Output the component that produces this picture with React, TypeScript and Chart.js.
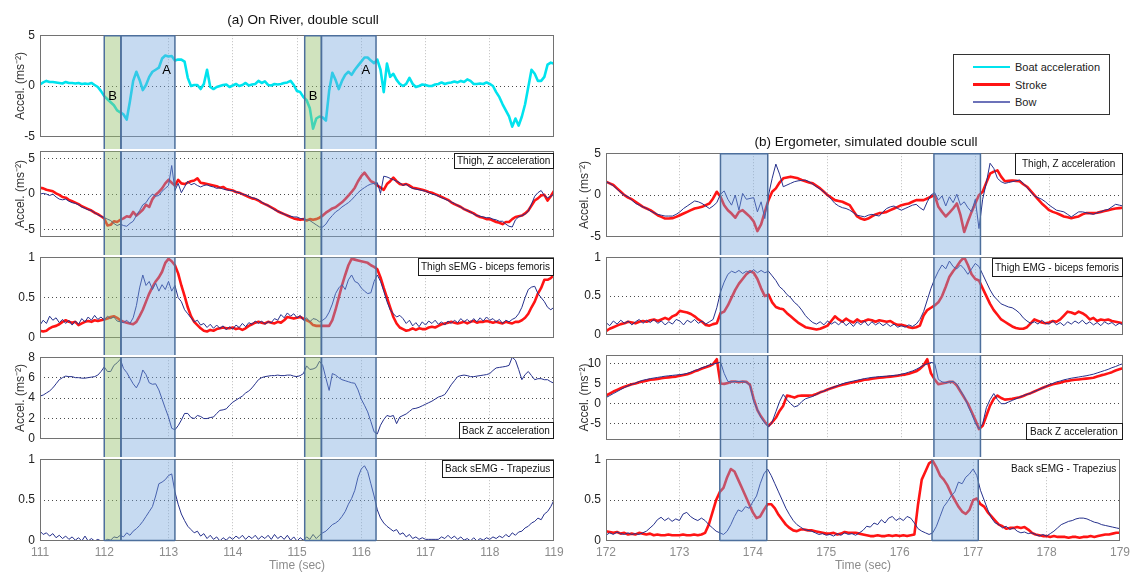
import React, { useEffect, useRef } from "react";
import { Chart, registerables } from "chart.js";

Chart.register(...registerables);

const FONT = "'Liberation Sans', Arial, Helvetica, sans-serif";

// ---------- categories / ticks ----------
const LEFT_START = 111;
const LEFT_END = 119;
const RIGHT_START = 172;
const RIGHT_END = 179;
const SAMPLE_STEP = 0.05;
const LEFT_X_TICKS = [111, 112, 113, 114, 115, 116, 117, 118, 119];
const RIGHT_X_TICKS = [172, 173, 174, 175, 176, 177, 178, 179];

const L1_Y_TICKS = [-5, 0, 5];
const L2_Y_TICKS = [-5, 0, 5];
const L3_Y_TICKS = [0, 0.5, 1];
const L4_Y_TICKS = [0, 2, 4, 6, 8];
const L5_Y_TICKS = [0, 0.5, 1];
const R1_Y_TICKS = [-5, 0, 5];
const R2_Y_TICKS = [0, 0.5, 1];
const R3_Y_TICKS = [-5, 0, 5, 10];
const R4_Y_TICKS = [0, 0.5, 1];

// ---------- (a) On river, 111..119 s, every 0.05 s ----------
const L_BOAT = [
  0.15, 0.35, 0.5, 0.4, 0.4, 0.35, 0.3, 0.25, 0.4, 0.3,
  0.3, 0.25, 0.3, 0.2, 0.25, 0.2, 0.3, 0.1, -0.1, -0.5,
  -1.0, -1.3, -1.6, -1.9, -2.4, -2.6, -2.8, -3.3, -1.5, 0.5,
  1.4, 0.6, -0.4, 0.1, 0.9, 1.4, 1.6, 1.8, 2.7, 3.0,
  2.9, 2.95, 2.5, 2.6, 2.6, 2.4, 0.8, 0.0, 0.1, 0.1,
  -0.3, 0.2, 1.6, -0.1, -0.3, -0.1, 0.0, 0.1, 0.15, -0.1,
  0.05, 0.2, 0.0, 0.1, 0.3, 0.05, 0.15, 0.2, 0.5, 0.3,
  0.45, 0.1, 0.05, 0.2, 0.15, 0.2, 0.3, 0.35, 0.5, 0.1,
  -0.5, -0.6, -1.1, -1.4, -2.2, -4.2, -3.2, -3.0, -3.1, -3.4,
  -0.5, 1.3, 0.6, -0.3, 0.5, 1.1, 1.4, 1.1, 1.6, 2.0,
  2.4, 2.8, 2.8, 2.5, 2.25, 2.6, 1.6, -0.6, 2.2, 0.9,
  1.2, 0.6, 0.2, 0.0, 0.2, 0.8, 0.2, -0.1, 0.0, 0.15,
  0.1, 0.0, 0.0, 0.15, 0.2, 0.35, 0.2, 0.3, 0.35, 0.45,
  0.35, 0.5, 0.4, 0.65, 0.5, 0.2, 0.2, 0.25, 0.2, 0.35,
  0.2, 0.0, -0.6, -1.1, -1.8, -2.4, -3.0, -4.0, -3.2, -3.9,
  -3.0, -1.8, -0.1, 1.6, 1.2, 0.5, 0.5, 0.9, 2.1, 2.3,
  2.2,
];

const L_THIGH_ACC_STROKE = [
  0.9, 0.8, 0.6, 0.5, 0.4, 0.1, -0.1, -0.4, -0.5, -0.8,
  -1.0, -1.2, -1.4, -1.7, -1.9, -2.1, -2.3, -2.6, -2.8, -3.1,
  -3.4, -4.4, -4.3, -3.8, -3.9, -3.6, -3.4, -3.1, -3.2, -2.5,
  -3.0, -2.6, -2.2, -1.5, -1.8, -0.7, -0.1, 0.3, 0.8, 1.5,
  2.0, 1.6, 1.2, 2.0, 1.5, 1.4, 1.6, 1.8, 1.9, 2.2,
  1.6, 1.5, 1.4, 1.3, 1.2, 1.1, 0.9, 1.0, 0.7, 0.6,
  0.5, 0.3, 0.2, 0.0, -0.2, -0.4, -0.6, -0.7, -0.9, -1.2,
  -1.4, -1.6, -1.85, -2.1, -2.4, -2.6, -2.8, -3.0, -3.2, -3.4,
  -3.5, -3.6, -3.5, -3.7, -3.5, -3.6, -3.5, -3.3, -3.0, -2.6,
  -2.3, -2.0, -1.85, -1.5, -1.15, -0.7, -0.2, 0.3, 0.9, 1.8,
  2.5, 3.0, 2.4, 1.8, 1.6, 1.2, 0.9, 0.6, 1.4, 1.8,
  2.3, 1.8, 1.4, 1.3, 1.4, 1.2, 0.9, 0.8, 0.7, 0.6,
  0.46, 0.3, 0.2, 0.0, -0.2, -0.4, -0.6, -0.8, -1.15, -1.4,
  -1.6, -1.8, -2.1, -2.3, -2.5, -2.7, -3.0, -3.2, -3.3, -3.5,
  -3.5, -3.7, -3.9, -4.0, -4.2, -3.9, -3.9, -3.5, -3.2, -3.1,
  -3.0, -2.7, -2.3, -1.6, -0.9, -0.6, -0.2, -0.1, -0.9, -0.3,
  0.46,
];

const L_THIGH_ACC_BOW = [
  0.0, 0.1, 0.0, -0.2, 0.0, -0.4, -0.7, -0.8, -0.7, -1.0,
  -1.2, -1.3, -1.5, -1.8, -2.0, -2.2, -2.3, -2.6, -2.9, -3.1,
  -3.3, -3.5, -3.7, -4.1, -4.4, -4.2, -4.4, -4.5, -4.1, -3.8,
  -3.0, -2.3, -1.5, -1.2, -0.5, 0.0, -0.3, -0.2, 0.4, 0.8,
  1.2, 4.0, 0.5, 1.5, 0.2, 1.0, 1.8, 1.3, 1.5, 1.2,
  1.0, 1.2, 1.3, 1.1, 1.0, 0.8, 0.9, 0.7, 0.6, 0.5,
  0.5, 0.3, 0.2, 0.0, -0.1, -0.3, -0.5, -0.6, -0.8, -1.1,
  -1.4, -1.6, -1.9, -2.2, -2.4, -2.6, -2.8, -3.0, -3.1, -3.2,
  -3.2, -3.4, -3.5, -3.6, -3.7, -4.0, -4.3, -4.6, -4.6, -4.2,
  -3.5, -3.0, -2.5, -2.2, -1.8, -1.5, -1.2, -0.8, -0.3, 0.2,
  0.6, 0.9, 1.2, 1.4, 1.5, 1.6, 0.1, 2.5, 2.4, 2.2,
  2.0, 1.8, 1.6, 1.2, 1.4, 1.0, 0.8, 0.7, 0.6, 0.5,
  0.4, 0.2, 0.0, -0.1, -0.3, -0.5, -0.7, -0.9, -1.1, -1.3,
  -1.6, -1.8, -2.1, -2.3, -2.5, -2.8, -3.0, -3.1, -3.2, -3.3,
  -3.3, -3.5, -3.6, -3.8, -3.8, -4.2, -4.5, -4.6, -3.6, -3.2,
  -3.0, -2.8, -2.4, -1.4, -0.3, 0.2, 0.5, -0.2, -0.5, -0.3,
  0.0,
];

const L_THIGH_EMG_STROKE = [
  0.09, 0.08, 0.09, 0.12, 0.14, 0.15, 0.17, 0.2, 0.22, 0.2,
  0.19, 0.2, 0.16, 0.18, 0.2, 0.21, 0.2, 0.22, 0.21, 0.22,
  0.23, 0.24, 0.26, 0.27, 0.25, 0.22, 0.2, 0.19, 0.18, 0.17,
  0.2, 0.27, 0.35, 0.45, 0.55, 0.63, 0.7, 0.75, 0.82, 0.93,
  0.98, 0.95, 0.9, 0.8, 0.65, 0.52, 0.38, 0.27, 0.2, 0.16,
  0.12, 0.09, 0.08, 0.1, 0.09, 0.11, 0.12, 0.13, 0.12, 0.12,
  0.13, 0.11, 0.12, 0.1, 0.12, 0.15, 0.17, 0.19, 0.2, 0.19,
  0.18, 0.2, 0.19, 0.18, 0.2, 0.19, 0.22, 0.26, 0.25, 0.24,
  0.25, 0.26, 0.24, 0.22, 0.2, 0.16, 0.15, 0.15, 0.15, 0.15,
  0.15, 0.22, 0.35, 0.5, 0.65, 0.78, 0.9, 0.98, 0.97, 0.96,
  0.95, 0.94, 0.93, 0.9, 0.88, 0.85, 0.75, 0.62, 0.5, 0.38,
  0.26, 0.18, 0.13, 0.11, 0.09, 0.1, 0.12, 0.1, 0.12, 0.11,
  0.11, 0.13, 0.14, 0.13, 0.15, 0.17, 0.18, 0.19, 0.2, 0.19,
  0.18, 0.19, 0.2, 0.18, 0.2, 0.21, 0.19, 0.2, 0.2, 0.21,
  0.2, 0.19, 0.2, 0.19, 0.18, 0.2, 0.19, 0.18, 0.2, 0.2,
  0.22, 0.25, 0.3, 0.38, 0.45, 0.55, 0.62, 0.72, 0.72, 0.74,
  0.78,
];

const L_THIGH_EMG_BOW = [
  0.16, 0.22, 0.18, 0.27, 0.22, 0.25, 0.19, 0.23, 0.18, 0.22,
  0.16, 0.21, 0.17, 0.24, 0.2, 0.26, 0.22, 0.28, 0.23, 0.26,
  0.22, 0.27, 0.24, 0.26, 0.21, 0.2, 0.19, 0.22, 0.18, 0.25,
  0.4, 0.62, 0.78, 0.65, 0.7, 0.6, 0.68, 0.58, 0.66, 0.6,
  0.7, 0.58, 0.65, 0.5, 0.45, 0.35, 0.3, 0.25, 0.2, 0.22,
  0.16, 0.18, 0.13, 0.17, 0.12, 0.16, 0.12, 0.15, 0.1, 0.14,
  0.11, 0.16, 0.13, 0.18, 0.14, 0.19, 0.17, 0.21, 0.18, 0.21,
  0.17, 0.2, 0.19, 0.24, 0.22, 0.29, 0.25, 0.31, 0.27, 0.3,
  0.25, 0.28, 0.22, 0.25, 0.2, 0.24, 0.23, 0.2, 0.22, 0.25,
  0.32, 0.42, 0.55, 0.62, 0.66, 0.6, 0.72, 0.78, 0.7, 0.68,
  0.62, 0.58, 0.55, 0.56, 0.7, 0.78, 0.7, 0.58, 0.45, 0.35,
  0.3, 0.26, 0.28, 0.24, 0.18, 0.22, 0.15, 0.19, 0.14, 0.2,
  0.16, 0.21, 0.18, 0.22, 0.17, 0.2, 0.16, 0.21, 0.18, 0.22,
  0.19, 0.24, 0.2, 0.23, 0.19, 0.24, 0.2, 0.25, 0.21, 0.26,
  0.22, 0.24, 0.2, 0.23, 0.18, 0.22, 0.2, 0.23, 0.25, 0.3,
  0.38, 0.5, 0.6, 0.63, 0.64, 0.55, 0.5, 0.45, 0.38, 0.35,
  0.38,
];

const L_BACK_ACC_BOW = [
  4.2, 4.3, 4.5, 4.7, 5.0, 5.4, 5.8, 6.0, 6.15, 6.1,
  6.1, 6.0, 6.0, 5.95, 5.95, 6.0, 6.05, 6.1, 6.25, 6.6,
  7.05, 6.6, 6.6, 7.2, 7.45, 7.8, 6.9, 6.5, 5.95, 5.4,
  5.0, 5.6, 6.75, 6.3, 5.5, 5.35, 5.4, 4.8, 3.9, 3.0,
  2.15, 1.05, 0.9, 1.3, 1.85, 2.5, 2.5, 2.1, 2.0, 2.3,
  2.2, 2.0, 2.0, 2.1, 2.15, 2.5, 2.8, 2.85, 2.95, 3.3,
  3.6, 3.8, 4.0, 4.2, 4.5, 4.7, 5.0, 5.4, 5.8, 6.0,
  6.1, 6.15, 6.2, 6.2, 6.25, 6.2, 6.2, 6.25, 6.25, 6.15,
  6.1, 6.2, 6.4, 7.15, 6.8, 6.85, 7.0, 7.6, 7.2, 5.95,
  4.75, 6.4, 6.25, 6.0, 5.8, 5.7, 5.6, 5.5, 5.45, 4.8,
  3.9, 3.3, 2.65, 1.7, 0.7, 0.5, 1.35, 1.9, 2.3, 2.2,
  2.3, 1.5, 2.15, 2.3, 2.45, 2.7, 2.95, 3.0, 3.1, 3.25,
  3.4, 3.55, 3.7, 3.9, 4.1, 4.2, 4.35, 4.8, 5.3, 5.7,
  6.1, 6.2, 6.25, 6.2, 6.1, 6.1, 6.15, 6.2, 6.25, 6.3,
  6.4, 6.7, 6.95, 7.0, 7.05, 7.1, 7.2, 8.0, 7.7, 6.8,
  5.8, 6.3, 6.6, 6.2, 5.8, 5.9, 5.9, 5.8, 5.8, 5.6,
  5.45,
];

const L_BACK_EMG_BOW = [
  0.12, 0.08, 0.1, 0.06, 0.09, 0.04, 0.07, 0.03, 0.06, 0.02,
  0.05, 0.01, 0.04, 0.0, 0.06, 0.0, 0.03, 0.0, 0.02, 0.0,
  0.0, 0.02, 0.01, 0.05, 0.04, 0.07, 0.05, 0.1, 0.07, 0.12,
  0.15, 0.19, 0.24, 0.3, 0.36, 0.42, 0.55, 0.7, 0.72, 0.75,
  0.8, 0.82, 0.6, 0.45, 0.33, 0.25, 0.18, 0.14, 0.1, 0.12,
  0.06, 0.09, 0.03, 0.07, 0.02, 0.05, 0.0, 0.04, 0.01, 0.05,
  0.02, 0.06, 0.03, 0.07, 0.02, 0.06, 0.03, 0.07, 0.02, 0.06,
  0.03, 0.07, 0.02, 0.08, 0.03, 0.06, 0.02, 0.07, 0.01, 0.05,
  0.0, 0.04, 0.01, 0.05, 0.02, 0.08, 0.03, 0.07, 0.1, 0.12,
  0.16, 0.2, 0.22, 0.25, 0.3, 0.36, 0.45, 0.52, 0.62, 0.78,
  0.88, 0.92, 0.85, 0.7, 0.55, 0.38, 0.28, 0.22, 0.18, 0.15,
  0.12, 0.14, 0.08, 0.1, 0.05, 0.08, 0.03, 0.05, 0.02, 0.04,
  0.02, 0.02, 0.02, 0.02, 0.02, 0.05, 0.03, 0.07, 0.03, 0.06,
  0.02, 0.05, 0.01, 0.03, 0.0, 0.04, 0.0, 0.03, 0.01, 0.04,
  0.02, 0.05, 0.03, 0.06, 0.04, 0.08, 0.05, 0.1, 0.07, 0.11,
  0.12, 0.16, 0.18, 0.22, 0.24, 0.28, 0.26, 0.33, 0.36, 0.42,
  0.5,
];

// ---------- (b) Ergometer, 172..179 s, every 0.05 s ----------
const R_THIGH_ACC_STROKE = [
  1.6, 1.4, 1.2, 0.8, 0.4, 0.0, -0.3, -0.5, -0.8, -1.1,
  -1.4, -1.6, -1.8, -2.1, -2.4, -2.6, -2.8, -2.8, -2.75, -2.6,
  -2.4, -2.2, -2.0, -1.8, -1.6, -1.5, -1.4, -1.2, -1.0, -0.4,
  0.4, -0.2, -1.2, -1.8, -2.2, -2.7, -2.0, -1.8, -2.2, -2.6,
  -3.15, -4.3, -3.5, -2.0, -0.6, 0.4, 0.8, 1.5, 2.0, 2.1,
  2.2, 2.1, 2.0, 1.8, 1.65, 1.5, 1.4, 1.1, 0.8, 0.4,
  0.0, -0.3, -0.6, -0.7, -0.8, -1.0, -1.2, -1.9, -2.55, -2.8,
  -2.95, -2.8, -2.55, -2.3, -2.15, -2.1, -2.0, -1.8, -1.6, -1.4,
  -1.2, -1.1, -1.0, -0.8, -0.6, -0.6, -0.6, -0.4, -0.2, 0.0,
  -1.4, -2.0, -2.55, -2.1, -1.6, -1.0, -2.4, -4.4, -3.15, -2.0,
  -1.0, 0.0, 0.4, 1.5, 2.55, 2.8, 2.95, 2.2, 1.65, 1.7,
  1.75, 1.7, 1.65, 1.3, 1.0, 0.5, 0.0, -0.5, -1.0, -1.4,
  -1.8, -2.0, -2.15, -2.35, -2.55, -2.65, -2.75, -2.65, -2.55, -2.3,
  -2.15, -2.15, -2.15, -2.1, -2.0, -1.9, -1.8, -1.7, -1.6, -1.55,
  -1.5,
];

const R_THIGH_ACC_BOW = [
  1.6, 1.4, 1.1, 0.7, 0.3, 0.0, -0.2, -0.6, -1.0, -1.2,
  -1.4, -1.6, -1.9, -2.1, -2.3, -2.4, -2.5, -2.5, -2.5, -2.3,
  -2.0, -1.6, -1.3, -1.0, -0.7, -0.8, -1.0, -1.3, -1.6, -1.3,
  -0.9, 0.1, 0.5, -0.5, -1.2, 0.0, -1.8, 0.2, -0.5, -0.4,
  -0.3, -2.0, -0.8, -2.8, 0.0, 2.0, 3.7, 2.5, 1.0, 1.2,
  1.4, 1.6, 1.7, 1.75, 1.8, 1.6, 1.3, 1.0, 0.7, 0.4,
  0.0, -0.5, -1.0, -1.3, -1.5, -1.6, -1.8, -2.1, -2.4, -2.5,
  -2.6, -2.4, -2.3, -2.4, -2.5, -2.0, -1.6, -1.4, -1.3, -1.6,
  -1.8, -1.6, -1.4, -1.2, -1.1, -1.5, -1.8, -0.8, 0.0, 0.3,
  -0.6, -0.1, -1.3, -0.2, -0.9, 0.1, -1.2, -0.8, -1.5, -2.0,
  -0.5, -4.0, -0.5, 1.5, 3.8, 3.2, 2.0, 1.6, 1.4, 1.5,
  1.6, 1.7, 1.8, 1.4, 0.9, 0.4, -0.1, -0.3, -0.5, -0.8,
  -1.2, -1.5, -1.8, -1.9, -2.0, -2.3, -2.6, -2.3, -2.0, -2.0,
  -2.1, -2.2, -2.3, -2.1, -2.0, -1.8, -1.7, -1.4, -1.1, -1.2,
  -1.3,
];

const R_THIGH_EMG_STROKE = [
  0.05, 0.08, 0.1, 0.12, 0.14, 0.15, 0.17, 0.16, 0.15, 0.17,
  0.18, 0.17, 0.19, 0.2, 0.18, 0.2, 0.22, 0.2, 0.24, 0.26,
  0.31, 0.3, 0.29, 0.27, 0.24, 0.2, 0.17, 0.13, 0.12, 0.14,
  0.15, 0.28, 0.3, 0.38, 0.48, 0.58, 0.66, 0.72, 0.78, 0.82,
  0.8, 0.72, 0.6, 0.5, 0.52, 0.42, 0.36, 0.34, 0.33, 0.28,
  0.24, 0.2, 0.16, 0.13, 0.1, 0.09, 0.08, 0.07, 0.08, 0.1,
  0.12, 0.18, 0.24, 0.2, 0.17, 0.21, 0.18, 0.16, 0.2, 0.17,
  0.18, 0.2, 0.19, 0.17, 0.19, 0.18, 0.17, 0.18, 0.15, 0.13,
  0.13, 0.12, 0.1, 0.09, 0.1, 0.12, 0.25, 0.32, 0.35, 0.38,
  0.42, 0.5, 0.62, 0.75, 0.82, 0.88, 0.95, 1.0, 0.9, 0.78,
  0.72, 0.7, 0.6, 0.5, 0.4, 0.32, 0.26, 0.2, 0.17, 0.14,
  0.11, 0.09, 0.08, 0.08, 0.1, 0.15, 0.2, 0.18, 0.16, 0.15,
  0.16, 0.18, 0.17, 0.2, 0.25, 0.3, 0.29, 0.27, 0.3, 0.28,
  0.25, 0.2, 0.22, 0.18, 0.2, 0.19, 0.2, 0.18, 0.17, 0.16,
  0.15,
];

const R_THIGH_EMG_BOW = [
  0.16, 0.12, 0.18, 0.14, 0.19, 0.15, 0.18, 0.13, 0.17, 0.2,
  0.15, 0.19, 0.16, 0.2, 0.15, 0.18, 0.13, 0.17, 0.14, 0.2,
  0.18, 0.13, 0.19, 0.16, 0.2, 0.15, 0.18, 0.14, 0.17, 0.2,
  0.35, 0.55, 0.68, 0.78, 0.82, 0.8, 0.83, 0.79, 0.82, 0.8,
  0.84, 0.8, 0.83, 0.8, 0.82, 0.76, 0.7, 0.62, 0.58, 0.52,
  0.48, 0.42, 0.38, 0.32, 0.25, 0.2, 0.16, 0.14, 0.17, 0.13,
  0.18, 0.14, 0.17, 0.13, 0.18, 0.12, 0.16, 0.11, 0.17, 0.13,
  0.18, 0.12, 0.17, 0.13, 0.16, 0.12, 0.15, 0.11, 0.14, 0.1,
  0.12, 0.1, 0.13, 0.11, 0.14, 0.2, 0.3, 0.45, 0.6, 0.72,
  0.82, 0.9, 0.85, 0.95, 0.88, 0.85, 0.9, 0.85, 0.78, 0.85,
  0.92, 0.88, 0.78, 0.68, 0.58, 0.5, 0.45, 0.4, 0.38, 0.36,
  0.35, 0.32, 0.28, 0.22, 0.18, 0.15, 0.17, 0.14, 0.19, 0.15,
  0.14, 0.18, 0.13, 0.16, 0.12, 0.17, 0.14, 0.18, 0.15, 0.19,
  0.14, 0.17, 0.13, 0.16, 0.12, 0.17, 0.14, 0.16, 0.12, 0.15,
  0.13,
];

const R_BACK_ACC_STROKE = [
  2.0, 2.5, 3.0, 3.4, 3.8, 4.2, 4.5, 4.8, 5.0, 5.3,
  5.5, 5.7, 5.9, 6.0, 6.1, 6.3, 6.4, 6.5, 6.6, 6.7,
  6.9, 7.1, 7.3, 7.6, 8.0, 8.3, 8.7, 9.0, 9.3, 9.8,
  11.0, 5.0, 4.9, 5.1, 5.5, 5.5, 5.3, 5.5, 5.4, 4.6,
  1.2, -1.6, -3.2, -4.5, -5.5, -4.6, -3.5, -1.8, -0.5, 2.0,
  1.8, 1.5, 1.9, 2.0, 2.0, 2.0, 2.1, 2.4, 2.8, 3.1,
  3.5, 3.8, 4.1, 4.4, 4.7, 4.9, 5.1, 5.3, 5.5, 5.7,
  5.9, 6.0, 6.2, 6.3, 6.4, 6.5, 6.6, 6.7, 6.8, 6.9,
  7.1, 7.2, 7.4, 7.7, 8.0, 8.6, 9.5, 11.0, 7.5, 6.0,
  4.8, 5.0, 5.2, 5.4, 5.4, 4.5, 3.0, 1.5, 0.0, -2.0,
  -4.0, -6.3, -5.5, -3.0, -0.5, 1.2, 2.0, 1.4, 1.0, 1.1,
  1.2, 1.4, 1.6, 1.9, 2.3, 2.6, 3.0, 3.4, 3.8, 4.2,
  4.5, 4.8, 5.0, 5.2, 5.5, 5.6, 5.8, 5.9, 6.0, 6.1,
  6.2, 6.3, 6.4, 6.7, 7.0, 7.2, 7.5, 7.8, 8.2, 8.5,
  8.8,
];

const R_BACK_ACC_BOW = [
  1.5, 2.0, 2.5, 3.0, 3.5, 4.0, 4.4, 4.8, 5.1, 5.5,
  5.8, 6.0, 6.2, 6.35, 6.5, 6.65, 6.8, 6.9, 7.0, 7.1,
  7.2, 7.3, 7.5, 7.8, 8.2, 8.5, 8.9, 9.2, 9.6, 9.8,
  10.0, 10.3, 7.5, 5.5, 5.4, 5.5, 5.5, 5.5, 5.3, 4.5,
  0.5, -1.5, -3.5, -4.8, -5.8, -4.5, -2.0, 0.5, 2.3, 1.0,
  0.0, -0.8, -0.5, 0.5, 1.2, 1.5, 1.8, 2.3, 2.8, 3.1,
  3.5, 3.9, 4.2, 4.6, 4.9, 5.2, 5.4, 5.6, 5.8, 6.0,
  6.2, 6.35, 6.5, 6.6, 6.7, 6.75, 6.8, 6.9, 7.0, 7.1,
  7.3, 7.5, 7.8, 8.1, 8.5, 9.0, 9.5, 9.8, 10.2, 10.0,
  6.0, 5.4, 5.2, 5.4, 5.5, 4.8, 3.2, 1.8, -0.5, -2.5,
  -4.8, -6.2, -5.0, -1.0, 1.0, 2.5, 1.0, 0.0, 0.0, 0.4,
  0.8, 1.2, 1.6, 2.0, 2.3, 2.6, 3.0, 3.4, 3.8, 4.2,
  4.7, 5.0, 5.4, 5.6, 5.9, 6.1, 6.3, 6.45, 6.6, 6.75,
  6.9, 7.1, 7.3, 7.6, 7.9, 8.2, 8.5, 8.9, 9.2, 9.6,
  9.9,
];

const R_BACK_EMG_STROKE = [
  0.12, 0.11, 0.1, 0.11, 0.09, 0.1, 0.08, 0.09, 0.08, 0.1,
  0.09, 0.08, 0.09, 0.07, 0.08, 0.07, 0.07, 0.08, 0.07, 0.07,
  0.07, 0.08, 0.07, 0.07, 0.08, 0.07, 0.08, 0.1, 0.2, 0.35,
  0.5, 0.6, 0.65, 0.78, 0.88, 0.85, 0.75, 0.65, 0.55, 0.45,
  0.35, 0.28, 0.3, 0.38, 0.45, 0.45, 0.4, 0.32, 0.26, 0.2,
  0.16, 0.13, 0.12, 0.14, 0.14, 0.13, 0.13, 0.12, 0.11, 0.1,
  0.09, 0.09, 0.1, 0.08, 0.09, 0.11, 0.1, 0.1, 0.1, 0.09,
  0.08, 0.07, 0.06, 0.06, 0.07, 0.06, 0.06, 0.07, 0.06, 0.07,
  0.06, 0.07, 0.06, 0.07, 0.08, 0.45, 0.75, 0.85, 0.95, 0.98,
  0.9, 0.8, 0.75, 0.68, 0.58, 0.5, 0.42, 0.36, 0.33, 0.38,
  0.5, 0.52, 0.45, 0.42, 0.35, 0.3, 0.25, 0.2, 0.18, 0.15,
  0.16, 0.16, 0.17, 0.16, 0.17, 0.14, 0.1, 0.08, 0.07, 0.06,
  0.06, 0.05, 0.06, 0.05, 0.05, 0.05, 0.04, 0.05, 0.05, 0.04,
  0.05, 0.05, 0.06, 0.05, 0.06, 0.07, 0.08, 0.08, 0.09, 0.1,
  0.1,
];

const R_BACK_EMG_BOW = [
  0.07, 0.1, 0.08, 0.11, 0.09, 0.08, 0.1, 0.08, 0.09, 0.08,
  0.1, 0.12, 0.16, 0.2, 0.26, 0.29, 0.25, 0.28, 0.24, 0.27,
  0.25, 0.33, 0.35, 0.3, 0.27, 0.25, 0.28, 0.25, 0.2, 0.16,
  0.12, 0.1, 0.08, 0.12, 0.2, 0.3, 0.38, 0.36, 0.42, 0.4,
  0.48, 0.55, 0.7, 0.82, 0.88, 0.8, 0.7, 0.6, 0.5, 0.4,
  0.32, 0.25, 0.2, 0.17, 0.14, 0.13, 0.12, 0.1, 0.08, 0.09,
  0.07, 0.08, 0.06, 0.09, 0.07, 0.1, 0.08, 0.09, 0.07, 0.1,
  0.13, 0.18, 0.17, 0.22, 0.2, 0.26, 0.22, 0.28, 0.3, 0.25,
  0.28, 0.25, 0.3, 0.28, 0.22, 0.15, 0.12, 0.1, 0.08, 0.1,
  0.18, 0.3, 0.42, 0.48, 0.55, 0.6, 0.72, 0.7, 0.78, 0.82,
  0.88, 0.8, 0.62, 0.5, 0.38, 0.28, 0.22, 0.2, 0.16, 0.18,
  0.14, 0.16, 0.12, 0.1, 0.11, 0.09, 0.1, 0.08, 0.06, 0.08,
  0.06, 0.09, 0.12, 0.16, 0.2, 0.22, 0.24, 0.25, 0.27, 0.28,
  0.28, 0.27, 0.25, 0.23, 0.22, 0.2, 0.19, 0.18, 0.17, 0.16,
  0.15,
];

// ---------- shaded phases & annotations ----------
const LEFT_GREEN_SPANS = [
  [112.0, 112.26],
  [115.12, 115.38],
];
const LEFT_BLUE_SPANS = [
  [112.26, 113.1],
  [115.38, 116.23],
];
const RIGHT_BLUE_SPANS = [
  [173.55, 174.19],
  [176.44, 177.07],
];
const PHASE_LETTERS = ["B", "A", "B", "A"];
const PHASE_LETTER_X = [112.13, 112.97, 115.25, 116.07];
const PHASE_LETTER_Y = [-1.05, 1.5, -1.05, 1.5];

// ---------- styles ----------
const CYAN = "#00e3ee";
const RED = "#ff1414";
const BLUE = "#26318c";
const BLUE_FILL = "rgba(120,168,222,0.42)";
const GREEN_FILL = "rgba(150,192,110,0.45)";
const SPAN_EDGE = "#4d6f9c";
const Y_TITLE = "Accel. (ms\u207B\u00B2)";

const makeTimes = (start: number, end: number) => {
  const n = Math.round((end - start) / SAMPLE_STEP) + 1;
  return Array.from({ length: n }, (_, i) => +(start + i * SAMPLE_STEP).toFixed(2));
};
const LEFT_TIMES = makeTimes(LEFT_START, LEFT_END);
const RIGHT_TIMES = makeTimes(RIGHT_START, RIGHT_END);

type Series = { label: string; data: number[]; color: string; width: number; order: number };
type Box = { text: string; corner: "tr" | "br"; h: number; off: number; padX: number; border: boolean };
type Cfg = {
  id: string;
  canvasLeft: number;
  canvasWidth: number;
  canvasTop: number;
  canvasBottom: number;
  plotLeft: number;
  plotRight: number;
  plotTop: number;
  plotBottom: number;
  xMin: number;
  xMax: number;
  xTicks: number[];
  yMin: number;
  yMax: number;
  yTicks: number[];
  times: number[];
  series: Series[];
  yTitle: boolean;
  yTitlePad: number;
  isFirst: boolean;
  isLast: boolean;
  box: Box | null;
  shading: { spans: number[][]; fill: string }[];
  letters: boolean;
};

const LEFT_GEOM = { canvasLeft: 0, canvasWidth: 572, plotLeft: 40, plotRight: 554, yTitlePad: 13 };
const RIGHT_GEOM = { canvasLeft: 556, canvasWidth: 578, plotLeft: 606, plotRight: 1123, yTitlePad: 21 };

const stroke = (data: number[]): Series => ({ label: "Stroke", data, color: RED, width: 2.6, order: 1 });
const bow = (data: number[]): Series => ({ label: "Bow", data, color: BLUE, width: 1, order: 0 });

const LEFT_ROWS = [
  { top: 33, bottom: 137, yMin: -5, yMax: 5, yTicks: L1_Y_TICKS, yTitle: true,
    series: [{ label: "Boat acceleration", data: L_BOAT, color: CYAN, width: 2.6, order: 0 }],
    box: null, letters: true },
  { top: 149, bottom: 237, yMin: -6, yMax: 6, yTicks: L2_Y_TICKS, yTitle: true,
    series: [stroke(L_THIGH_ACC_STROKE), bow(L_THIGH_ACC_BOW)],
    box: { text: "Thigh, Z acceleration", corner: "tr", h: 15, off: 2, padX: 3, border: true }, letters: false },
  { top: 255, bottom: 338, yMin: 0, yMax: 1, yTicks: L3_Y_TICKS, yTitle: false,
    series: [stroke(L_THIGH_EMG_STROKE), bow(L_THIGH_EMG_BOW)],
    box: { text: "Thigh sEMG - biceps femoris", corner: "tr", h: 17, off: 1, padX: 3, border: true }, letters: false },
  { top: 355, bottom: 439, yMin: 0, yMax: 8, yTicks: L4_Y_TICKS, yTitle: true,
    series: [bow(L_BACK_ACC_BOW)],
    box: { text: "Back Z acceleration", corner: "br", h: 16, off: 0, padX: 3, border: true }, letters: false },
  { top: 457, bottom: 541, yMin: 0, yMax: 1, yTicks: L5_Y_TICKS, yTitle: false,
    series: [bow(L_BACK_EMG_BOW)],
    box: { text: "Back sEMG - Trapezius", corner: "tr", h: 17, off: 1, padX: 3, border: true }, letters: false },
];

const RIGHT_ROWS = [
  { top: 151, bottom: 237, yMin: -5, yMax: 5, yTicks: R1_Y_TICKS, yTitle: true,
    series: [stroke(R_THIGH_ACC_STROKE), bow(R_THIGH_ACC_BOW)],
    box: { text: "Thigh, Z acceleration", corner: "tr", h: 21, off: 0, padX: 7, border: true }, letters: false },
  { top: 255, bottom: 335, yMin: 0, yMax: 1, yTicks: R2_Y_TICKS, yTitle: false,
    series: [stroke(R_THIGH_EMG_STROKE), bow(R_THIGH_EMG_BOW)],
    box: { text: "Thigh EMG - biceps femoris", corner: "tr", h: 18, off: 1, padX: 3, border: true }, letters: false },
  { top: 353, bottom: 440, yMin: -9, yMax: 12, yTicks: R3_Y_TICKS, yTitle: true,
    series: [stroke(R_BACK_ACC_STROKE), bow(R_BACK_ACC_BOW)],
    box: { text: "Back Z acceleration", corner: "br", h: 16, off: 0, padX: 4, border: true }, letters: false },
  { top: 457, bottom: 541, yMin: 0, yMax: 1, yTicks: R4_Y_TICKS, yTitle: false,
    series: [stroke(R_BACK_EMG_STROKE), bow(R_BACK_EMG_BOW)],
    box: { text: "Back sEMG - Trapezius", corner: "tr", h: 16, off: 1, padX: 3, border: false }, letters: false },
];

function buildCfgs(): Cfg[] {
  const out: Cfg[] = [];
  const add = (rows: any[], geom: any, side: string, xMin: number, xMax: number, xTicks: number[], times: number[], shading: any[]) => {
    rows.forEach((r, i) => {
      const isLast = i === rows.length - 1;
      out.push({
        id: side + i,
        canvasLeft: geom.canvasLeft,
        canvasWidth: geom.canvasWidth,
        canvasTop: r.top - 10,
        canvasBottom: isLast ? 576 : rows[i + 1].top,
        plotLeft: geom.plotLeft,
        plotRight: geom.plotRight,
        plotTop: r.top,
        plotBottom: r.bottom,
        xMin, xMax, xTicks,
        yMin: r.yMin, yMax: r.yMax, yTicks: r.yTicks,
        times,
        series: r.series,
        yTitle: r.yTitle,
        yTitlePad: geom.yTitlePad,
        isFirst: i === 0,
        isLast,
        box: r.box,
        shading,
        letters: r.letters,
      });
    });
  };
  add(LEFT_ROWS, LEFT_GEOM, "L", LEFT_START, LEFT_END, LEFT_X_TICKS, LEFT_TIMES, [
    { spans: LEFT_GREEN_SPANS, fill: GREEN_FILL },
    { spans: LEFT_BLUE_SPANS, fill: BLUE_FILL },
  ]);
  add(RIGHT_ROWS, RIGHT_GEOM, "R", RIGHT_START, RIGHT_END, RIGHT_X_TICKS, RIGHT_TIMES, [
    { spans: RIGHT_BLUE_SPANS, fill: BLUE_FILL },
  ]);
  return out;
}

function decorPlugin(cfg: Cfg) {
  return {
    id: "decor" + cfg.id,
    afterDatasetsDraw(chart: any) {
      const { ctx, chartArea: a } = chart;
      const xs = chart.scales.x;
      ctx.save();
      // axes box
      ctx.strokeStyle = "#727272";
      ctx.lineWidth = 1;
      ctx.strokeRect(Math.round(a.left) + 0.5, Math.round(a.top) + 0.5, Math.round(a.right - a.left) - 1, Math.round(a.bottom - a.top) - 1);
      // shaded phases
      const top = a.top;
      const bottom = cfg.isLast ? a.bottom : chart.height;
      for (const g of cfg.shading) {
        ctx.fillStyle = g.fill;
        for (const [s, e] of g.spans) {
          const x0 = xs.getPixelForValue(s);
          const x1 = xs.getPixelForValue(e);
          ctx.fillRect(x0, top, x1 - x0, bottom - top);
        }
      }
      ctx.strokeStyle = SPAN_EDGE;
      ctx.lineWidth = 1.5;
      for (const g of cfg.shading) {
        for (const [s, e] of g.spans) {
          const x0 = xs.getPixelForValue(s);
          const x1 = xs.getPixelForValue(e);
          ctx.beginPath();
          ctx.moveTo(x0, top);
          ctx.lineTo(x0, bottom);
          ctx.moveTo(x1, top);
          ctx.lineTo(x1, bottom);
          if (cfg.isFirst) {
            ctx.moveTo(x0, top + 0.5);
            ctx.lineTo(x1, top + 0.5);
          }
          if (cfg.isLast) {
            ctx.moveTo(x0, bottom - 0.5);
            ctx.lineTo(x1, bottom - 0.5);
          }
          ctx.stroke();
        }
      }
      ctx.restore();
    },
    afterDraw(chart: any) {
      const { ctx, chartArea: a } = chart;
      ctx.save();
      if (cfg.box) {
        const b = cfg.box;
        ctx.font = `10px ${FONT}`;
        const tw = ctx.measureText(b.text).width;
        const w = Math.round(tw + 2 * b.padX);
        const x1 = Math.round(a.right) - 1;
        const x0 = x1 - w;
        const y0 = b.corner === "tr" ? Math.round(a.top) + b.off : Math.round(a.bottom) - b.h - 1;
        ctx.fillStyle = "#ffffff";
        ctx.fillRect(x0, y0, w, b.h);
        if (b.border) {
          ctx.strokeStyle = "#1a1a1a";
          ctx.lineWidth = 1;
          ctx.strokeRect(x0 + 0.5, y0 + 0.5, w, b.h);
        }
        ctx.fillStyle = "#111111";
        ctx.textAlign = "left";
        ctx.textBaseline = "middle";
        ctx.fillText(b.text, x0 + b.padX, y0 + b.h / 2 + 1);
      }
      if (cfg.letters) {
        const xs = chart.scales.x;
        const ys = chart.scales.y;
        ctx.font = `13px ${FONT}`;
        ctx.fillStyle = "#000";
        ctx.textAlign = "center";
        ctx.textBaseline = "middle";
        PHASE_LETTERS.forEach((t, i) => {
          ctx.fillText(t, xs.getPixelForValue(PHASE_LETTER_X[i]), ys.getPixelForValue(PHASE_LETTER_Y[i]));
        });
      }
      ctx.restore();
    },
  };
}

function buildChartConfig(cfg: Cfg): any {
  const canvasRight = cfg.canvasLeft + cfg.canvasWidth;
  const xTickFont = { family: FONT, size: 12 };
  return {
    type: "line",
    data: {
      datasets: cfg.series.map((s) => ({
        label: s.label,
        data: cfg.times.map((t, i) => ({ x: t, y: s.data[i] })),
        borderColor: s.color,
        backgroundColor: s.color,
        borderWidth: s.width,
        pointRadius: 0,
        tension: 0,
        fill: false,
        order: s.order,
        borderJoinStyle: "round",
      })),
    },
    options: {
      animation: false,
      responsive: false,
      maintainAspectRatio: false,
      events: [],
      layout: {
        padding: {
          top: cfg.plotTop - cfg.canvasTop,
          left: 0,
          right: canvasRight - cfg.plotRight,
          bottom: 0,
        },
      },
      plugins: {
        legend: { display: false },
        tooltip: { enabled: false },
        title: { display: false },
      },
      scales: {
        x: {
          type: "linear",
          min: cfg.xMin,
          max: cfg.xMax,
          afterBuildTicks: (s: any) => {
            s.ticks = cfg.xTicks.map((v) => ({ value: v }));
          },
          afterFit: (s: any) => {
            s.height = cfg.canvasBottom - cfg.plotBottom;
          },
          grid: {
            drawTicks: false,
            lineWidth: 1,
            color: (c: any) =>
              c.tick && (c.tick.value === cfg.xMin || c.tick.value === cfg.xMax) ? "rgba(0,0,0,0)" : "#bdbdbd",
          },
          border: { display: false, dash: [1, 2] },
          ticks: {
            display: cfg.isLast,
            padding: 4,
            color: "#8c8c8c",
            font: xTickFont,
            maxRotation: 0,
            autoSkip: false,
            callback: (v: any) => String(v),
          },
          title: {
            display: cfg.isLast,
            text: "Time (sec)",
            color: "#8c8c8c",
            font: { family: FONT, size: 12 },
            padding: { top: 0, bottom: 3 },
          },
        },
        y: {
          type: "linear",
          min: cfg.yMin,
          max: cfg.yMax,
          afterBuildTicks: (s: any) => {
            s.ticks = cfg.yTicks.map((v) => ({ value: v }));
          },
          afterFit: (s: any) => {
            s.width = cfg.plotLeft - cfg.canvasLeft;
          },
          grid: {
            drawTicks: false,
            lineWidth: 1,
            color: (c: any) =>
              c.tick && (c.tick.value === cfg.yMin || c.tick.value === cfg.yMax) ? "rgba(0,0,0,0)" : "#4a4a4a",
          },
          border: { display: false, dash: [1, 3] },
          ticks: {
            padding: 5,
            color: "#222222",
            font: { family: FONT, size: 12 },
            autoSkip: false,
            callback: (v: any) => String(v),
          },
          title: {
            display: cfg.yTitle,
            text: Y_TITLE,
            color: "#333333",
            font: { family: FONT, size: 12 },
            padding: { top: cfg.yTitlePad, bottom: 0 },
          },
        },
      },
    },
    plugins: [decorPlugin(cfg)],
  };
}

function Subplot({ cfg }: { cfg: Cfg }) {
  const ref = useRef<HTMLCanvasElement | null>(null);
  const h = cfg.canvasBottom - cfg.canvasTop;
  useEffect(() => {
    if (!ref.current) return;
    const chart = new Chart(ref.current, buildChartConfig(cfg));
    return () => chart.destroy();
  }, []);
  return (
    <canvas
      ref={ref}
      width={cfg.canvasWidth}
      height={h}
      style={{ position: "absolute", left: cfg.canvasLeft, top: cfg.canvasTop, width: cfg.canvasWidth, height: h }}
    />
  );
}

const LEGEND_ITEMS = [
  { label: "Boat acceleration", color: CYAN, width: 2.5 },
  { label: "Stroke", color: RED, width: 2.5 },
  { label: "Bow", color: "#6c72b9", width: 2 },
];

export default function App() {
  const cfgs = buildCfgs();
  const textBase: React.CSSProperties = { position: "absolute", fontFamily: FONT, color: "#111", whiteSpace: "nowrap" };
  return (
    <div style={{ position: "absolute", left: 0, top: 0, width: 1134, height: 576, background: "#fff", overflow: "hidden" }}>
      {cfgs.map((c) => (
        <Subplot key={c.id} cfg={c} />
      ))}
      <div style={{ ...textBase, left: 303, top: 19, fontSize: 13.5, transform: "translate(-50%, -50%)" }}>
        (a) On River, double scull
      </div>
      <div style={{ ...textBase, left: 866, top: 141, fontSize: 13.5, transform: "translate(-50%, -50%)" }}>
        (b) Ergometer, simulated double scull
      </div>
      <div
        style={{
          position: "absolute",
          left: 953,
          top: 54,
          width: 157,
          height: 61,
          border: "1px solid #333",
          background: "#fff",
          boxSizing: "border-box",
        }}
      >
        {LEGEND_ITEMS.map((it, i) => (
          <div key={it.label} style={{ position: "absolute", left: 0, top: 12 + i * 17.5, width: 157, height: 0 }}>
            <div
              style={{
                position: "absolute",
                left: 19,
                top: -it.width / 2,
                width: 37,
                height: it.width,
                background: it.color,
              }}
            />
            <div style={{ ...textBase, left: 61, top: -7, fontSize: 11, lineHeight: "14px", color: "#222" }}>{it.label}</div>
          </div>
        ))}
      </div>
    </div>
  );
}
